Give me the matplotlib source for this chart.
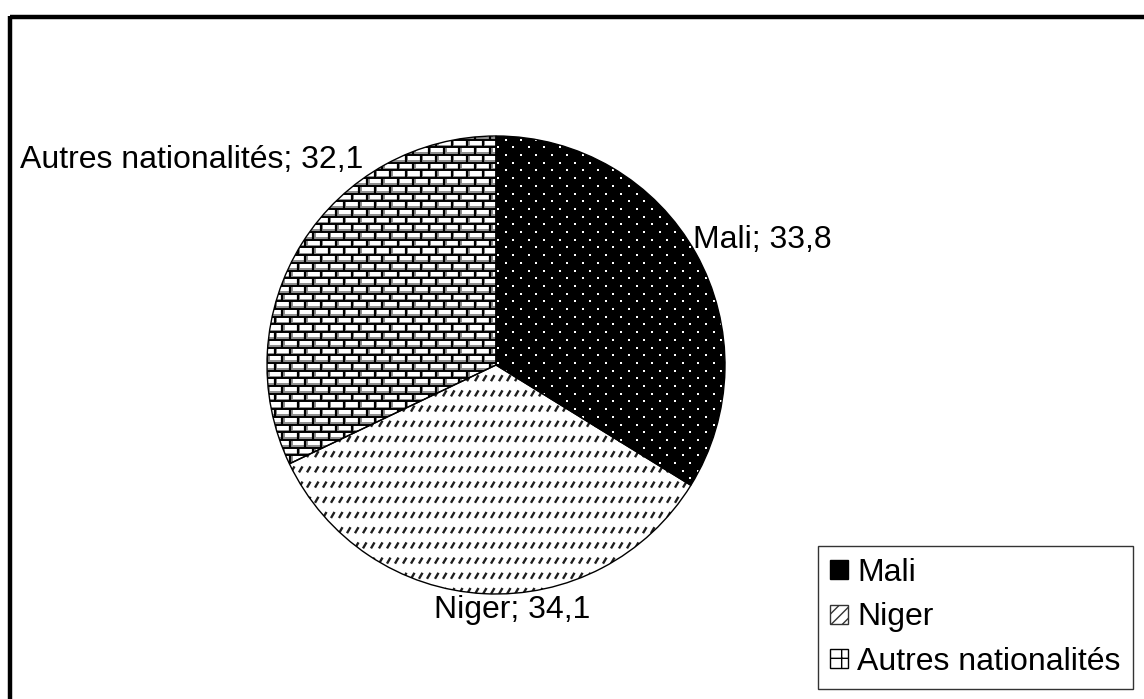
import numpy as np
import matplotlib
matplotlib.use("Agg")
import matplotlib.pyplot as plt
from matplotlib.collections import LineCollection
from matplotlib.patches import Patch

plt.rcParams['font.family'] = ['Liberation Sans', 'DejaVu Sans']

# Data
categories = ["Mali", "Niger", "Autres nationalités"]
values = [33.8, 34.1, 32.1]
value_labels = ["33,8", "34,1", "32,1"]

W, H = 1144, 699
fig = plt.figure(figsize=(W / 100, H / 100), dpi=100)
ax = fig.add_axes([0, 0, 1, 1])

cx, cy, R = 496, H - 365, 229

wedges, _ = ax.pie(values, startangle=90, counterclock=False, radius=R,
                   center=(cx, cy), frame=True,
                   colors=["black", "white", "white"],
                   wedgeprops=dict(linewidth=0))

# textures, clipped to each wedge
x0, x1, y0, y1 = cx - R, cx + R, cy - R, cy + R

# Mali: white dots on black
dx, dy = 15.4, 7.7
pts = []
for i, yy in enumerate(np.arange(y0, y1, dy)):
    off = (i % 2) * dx / 2
    for xx in np.arange(x0 + off, x1, dx):
        pts.append((xx, yy))
pts = np.array(pts)
sc = ax.scatter(pts[:, 0], pts[:, 1], s=2.6, marker='s', c='white',
                linewidths=0, zorder=3)
sc.set_clip_path(wedges[0])

# Niger: rows of slanted dashes
segs = []
for yy in np.arange(y0, y1, 15.2):
    for xx in np.arange(x0, x1, 8):
        segs.append([(xx, yy), (xx + 3.5, yy + 6)])
lc = LineCollection(segs, colors='#1e1e1e', linewidths=1.7, zorder=3)
ax.add_collection(lc)
lc.set_clip_path(wedges[1])

# Autres nationalités: bricks
bh, bw = 7.7, 15.4
hsegs, shadow, vsegs = [], [], []
for i, yy in enumerate(np.arange(y0, y1, bh)):
    hsegs.append([(x0, yy), (x1, yy)])
    shadow.append([(x0, yy + 1.6), (x1, yy + 1.6)])
    off = (i % 2) * bw / 2
    for xx in np.arange(x0 + off, x1, bw):
        vsegs.append([(xx, yy), (xx, yy + bh)])
        shadow.append([(xx + 1.5, yy), (xx + 1.5, yy + bh)])
for segs_, col, lw in [(shadow, '#8c8c8c', 1.4), (hsegs, 'black', 1.4),
                       (vsegs, 'black', 1.6)]:
    c = LineCollection(segs_, colors=col, linewidths=lw, zorder=3)
    ax.add_collection(c)
    c.set_clip_path(wedges[2])

# outlines on top
outl, _ = ax.pie(values, startangle=90, counterclock=False, radius=R,
                 center=(cx, cy), frame=True, colors=['none'] * 3,
                 wedgeprops=dict(edgecolor='black', linewidth=1.0))
for w in outl:
    w.set_zorder(4)
ax.set_xlim(0, W)
ax.set_ylim(0, H)
ax.set_aspect('equal')
ax.axis('off')

# labels
fs = 23
lab = [f"{c}; {v}" for c, v in zip(categories, value_labels)]
ax.text(693, H - 240, lab[0], fontsize=fs, ha='left', va='center')
ax.text(512, H - 610, lab[1], fontsize=fs, ha='center', va='center')
ax.text(20, H - 160, lab[2], fontsize=fs, ha='left', va='center')

# frame (top and left edges only)
ax.plot([10, W], [H - 17, H - 17], color='black', lw=3.2, solid_capstyle='butt')
ax.plot([10, 10], [0, H - 15.5], color='black', lw=3.2, solid_capstyle='butt')

# legend
handles = [Patch(facecolor='black', edgecolor='black'),
           Patch(facecolor='white', edgecolor='#333333', hatch='///'),
           Patch(facecolor='white', edgecolor='black', hatch='+')]
leg = fig.legend(handles, categories, loc='lower right',
                 bbox_to_anchor=(1133 / W, (H - 689) / H),
                 fontsize=fs, frameon=True, fancybox=False,
                 handlelength=0.55, handleheight=0.55, handletextpad=0.3,
                 labelspacing=0.45, borderpad=0.38, borderaxespad=0)
leg.get_frame().set_edgecolor('black')
leg.get_frame().set_linewidth(1.0)

fig.savefig("out.png", dpi=100)
